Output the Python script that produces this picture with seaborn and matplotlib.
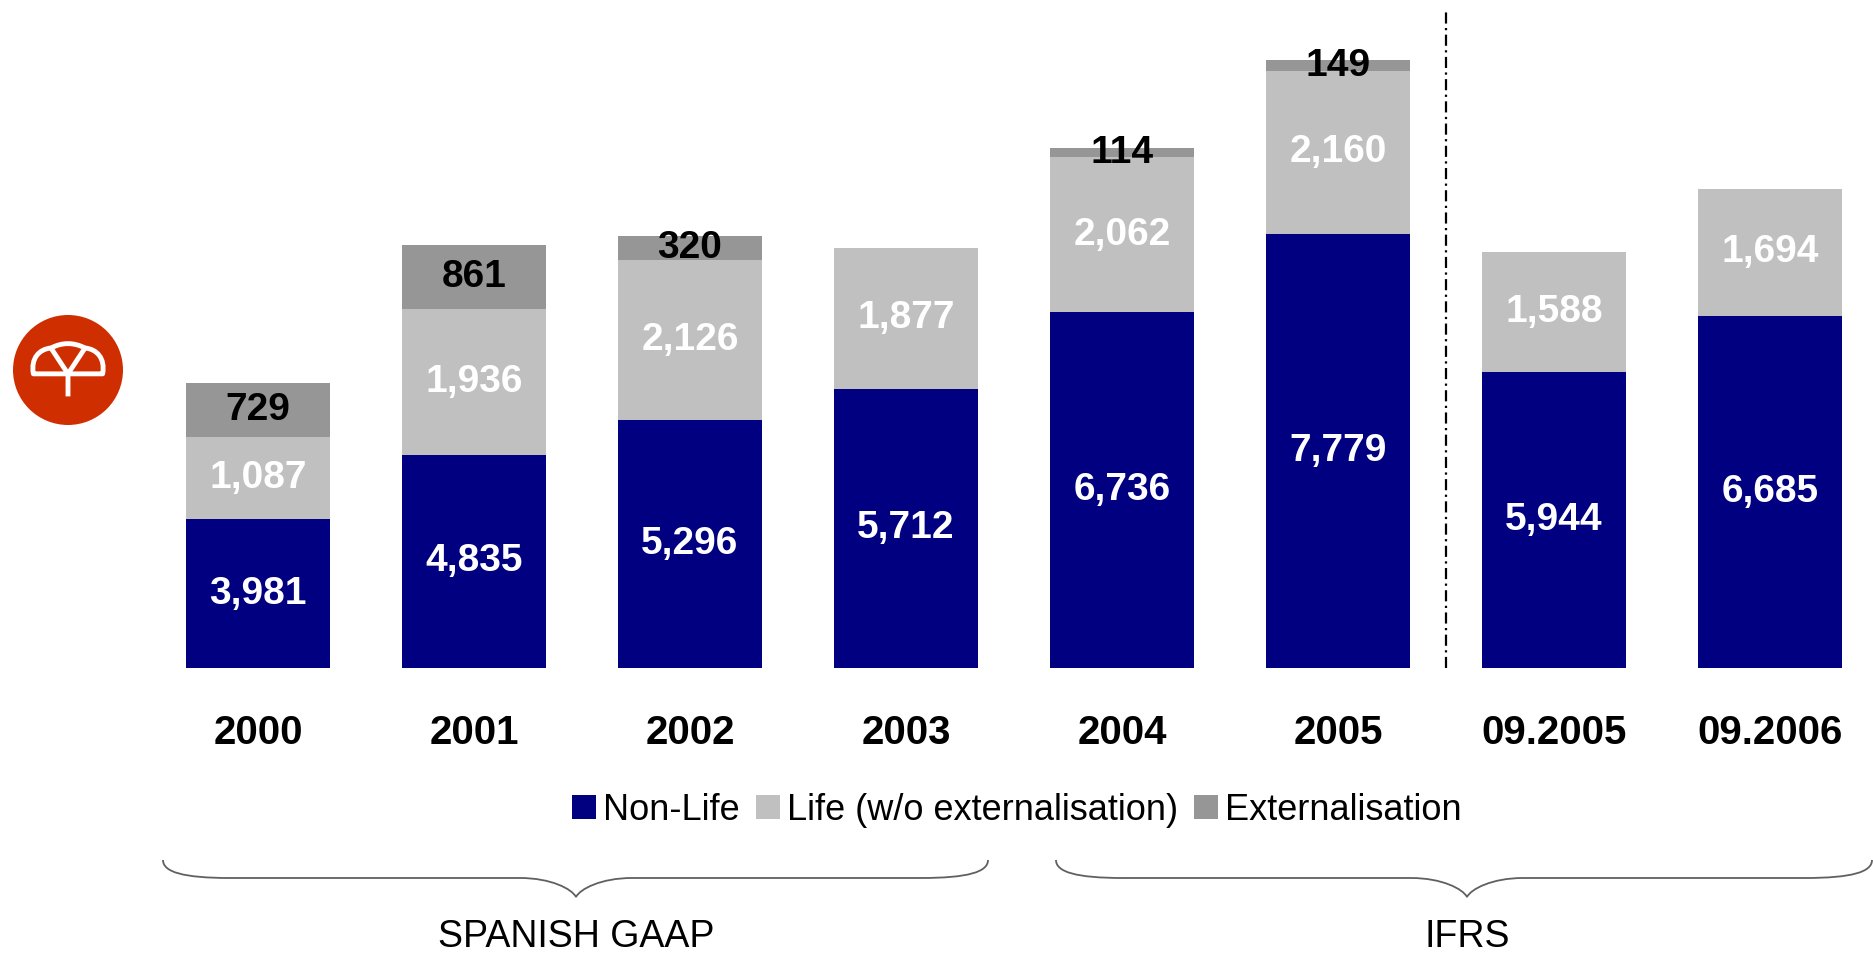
import numpy as np
import pandas as pd
import matplotlib
matplotlib.use("Agg")
import matplotlib.pyplot as plt
import seaborn as sns
from matplotlib.patches import Patch, Circle, PathPatch
from matplotlib.path import Path
from matplotlib.transforms import Affine2D

# Chart data
periods = ['2000', '2001', '2002', '2003', '2004', '2005', '09.2005', '09.2006']
non_life = [3981, 4835, 5296, 5712, 6736, 7779, 5944, 6685]
life = [1087, 1936, 2126, 1877, 2062, 2160, 1588, 1694]
externalisation = [729, 861, 320, 0, 114, 149, 0, 0]
series_names = ['Non-Life', 'Life (w/o externalisation)', 'Externalisation']
group_names = ['SPANISH GAAP', 'IFRS']

NAVY = '#000080'
LIGHT = '#C0C0C0'
DARK = '#969696'
LOGO_RED = '#CF2E00'
BRACE_GREY = '#606060'

W, H = 1874, 963
Y_FLOOR, Y_CEIL = 2000, 10887


def brace(fig, x0, x1, xm, y_end, y_line, y_tip):
    '''Curly brace drawn in figure pixel coords (y pointing down).'''
    verts = [
        (x0, y_end),
        (x0, y_end + 12), (x0 + 20, y_line), (x0 + 67, y_line),
        (xm - 56, y_line),
        (xm - 25, y_line), (xm - 4, y_tip - 8), (xm, y_tip),
        (xm + 4, y_tip - 8), (xm + 25, y_line), (xm + 56, y_line),
        (x1 - 67, y_line),
        (x1 - 20, y_line), (x1, y_end + 12), (x1, y_end),
    ]
    codes = ([Path.MOVETO] + [Path.CURVE4] * 3 + [Path.LINETO] + [Path.CURVE4] * 6
             + [Path.LINETO] + [Path.CURVE4] * 3)
    tr = Affine2D().scale(1 / W, -1 / H).translate(0, 1) + fig.transFigure
    fig.patches.append(PathPatch(Path(verts, codes), facecolor='none', edgecolor=BRACE_GREY,
                                 lw=1.3, transform=tr, figure=fig))


def draw_logo(fig):
    lax = fig.add_axes([13 / W, (H - 370 - 55) / H, 110 / W, 110 / H])
    lax.set_xlim(-1, 1)
    lax.set_ylim(-1, 1)
    lax.axis('off')
    lax.add_patch(Circle((0, 0), 1, color=LOGO_RED, lw=0))
    canopy = Path([(-0.63, -0.07), (-0.68, 0.22), (-0.52, 0.38), (-0.31, 0.40),
                   (0, 0.56), (0.31, 0.40),
                   (0.52, 0.38), (0.68, 0.22), (0.63, -0.07), (-0.63, -0.07)],
                  [Path.MOVETO, Path.CURVE4, Path.CURVE4, Path.CURVE4,
                   Path.CURVE3, Path.CURVE3,
                   Path.CURVE4, Path.CURVE4, Path.CURVE4, Path.CLOSEPOLY])
    arms = Path([(-0.31, 0.40), (0, -0.07), (0.31, 0.40), (0, -0.07), (0, -0.48)],
                [Path.MOVETO, Path.LINETO, Path.LINETO, Path.MOVETO, Path.LINETO])
    for p in (canopy, arms):
        lax.add_patch(PathPatch(p, facecolor='none', edgecolor='white', lw=3.5,
                                capstyle='butt', joinstyle='round'))


def main():
    sns.set_style('white')
    plt.rcParams['font.family'] = ['Liberation Sans', 'DejaVu Sans']
    plt.rcParams['text.color'] = 'black'
    plt.rcParams['xtick.color'] = 'black'

    df = pd.DataFrame({'period': periods, 'non_life': non_life, 'life': life,
                       'ext': externalisation})
    df['life_top'] = df['non_life'] + df['life']
    df['total'] = df['life_top'] + df['ext']
    df['ext_top'] = df['total'].where(df['ext'] > 0)

    fig = plt.figure(figsize=(W / 100, H / 100), dpi=100)
    ax = fig.add_axes([0, (H - 668) / H, 1, 668 / H])

    # stacked look: draw cumulative tops back to front
    for col, colour in [('ext_top', DARK), ('life_top', LIGHT), ('non_life', NAVY)]:
        sns.barplot(data=df, x='period', y=col, order=periods, color=colour, width=0.667,
                    saturation=1, linewidth=0, errorbar=None, ax=ax)

    ax.set_ylim(Y_FLOOR, Y_CEIL)
    ax.set_xlim(-1.194, 7.481)
    ax.set_xlabel('')
    ax.set_ylabel('')
    ax.set_yticks([])
    sns.despine(ax=ax, left=True, bottom=True)
    ax.tick_params(axis='x', length=0, pad=33, labelcolor='black')
    ax.set_xticks(range(len(periods)))
    ax.set_xticklabels(periods, fontsize=29, fontweight='bold')

    # segment value labels
    for i, row in df.iterrows():
        ax.text(i, (Y_FLOOR + row['non_life']) / 2, f"{row['non_life']:,}", ha='center',
                va='center', color='white', fontsize=28, fontweight='bold')
        ax.text(i, row['non_life'] + row['life'] / 2, f"{row['life']:,}", ha='center',
                va='center', color='white', fontsize=28, fontweight='bold')
        if row['ext'] > 0:
            ax.text(i, row['total'] - row['ext'] / 2, f"{row['ext']:,}", ha='center',
                    va='center', color='black', fontsize=28, fontweight='bold')

    # GAAP / IFRS divider
    split = periods.index('2005') + 0.5
    ax.axvline(split, ymin=0, ymax=0.985, color='black', lw=1.6, linestyle=(0, (5, 2, 1, 2)))

    handles = [Patch(facecolor=c, edgecolor='none') for c in (NAVY, LIGHT, DARK)]
    fig.legend(handles, series_names, loc='center', bbox_to_anchor=(1017 / W, (H - 810) / H),
               ncol=3, fontsize=26, frameon=False, handlelength=0.66, handleheight=0.66,
               handletextpad=0.2, columnspacing=0.45, borderpad=0, borderaxespad=0,
               labelcolor='black')

    brace(fig, 163, 988, 576, 860, 878, 897)
    brace(fig, 1056, 1872, 1467, 860, 878, 897)
    fig.text(576 / W, (H - 937) / H, group_names[0], ha='center', va='center', fontsize=27)
    fig.text(1467 / W, (H - 937) / H, group_names[1], ha='center', va='center', fontsize=27)

    draw_logo(fig)

    fig.savefig('out.png', dpi=100)


if __name__ == "__main__":
    main()
